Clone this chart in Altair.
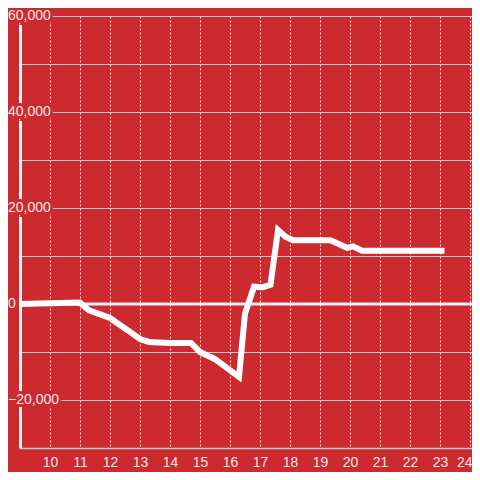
import altair as alt
import pandas as pd

hours = [9.0, 11.0, 11.1, 11.3, 11.7, 12.0, 12.2, 12.6, 13.0, 13.3, 14.0, 14.7,
         15.0, 15.5, 16.3, 16.5, 16.8, 17.1, 17.35, 17.6, 17.85, 18.1, 19.35,
         19.9, 20.1, 20.4, 23.15]
values = [0, 300, -300, -1300, -2200, -2900, -3800, -5500, -7300, -7900, -8100,
          -8100, -10000, -11500, -15200, -2000, 3600, 3500, 4000, 15400, 14000,
          13300, 13300, 11700, 12000, 11100, 11100]
x_ticks = list(range(10, 25))
y_grid = [-30000, -20000, -10000, 0, 10000, 20000, 30000, 40000, 50000, 60000]
y_labels = [60000, 40000, 20000, 0, -20000]

BG = "#cc2a2f"
TXT = "#f0e8e8"
FONT = "Liberation Sans"

df = pd.DataFrame({"t": hours, "v": values})
lab = pd.DataFrame({"v": y_labels})
zero = pd.DataFrame({"v": [0]})

xs = alt.Scale(domain=[9, 24.0667], nice=False, zero=False)
ys = alt.Scale(domain=[-30000, 60000], nice=False, zero=False)

base_line = alt.Chart(df).mark_line(color="white", strokeWidth=6, strokeCap="butt").encode(
    x=alt.X("t:Q", scale=xs, title=None,
            axis=alt.Axis(values=x_ticks, grid=True, gridColor="#e8e8e8",
                          gridDash=[2, 2], gridWidth=1, ticks=False,
                          domainColor="#cccccc", domainWidth=1.5,
                          labelColor=TXT, labelFontSize=14, labelFont=FONT,
                          labelPadding=7, labelOverlap=False,
                          labelAlign={"condition": {"test": "datum.value == 24", "value": "right"},
                                      "value": "center"},
                          labelOffset={"condition": {"test": "datum.value == 24", "value": 2},
                                       "value": 0},
                          zindex=0)),
    y=alt.Y("v:Q", scale=ys, title=None,
            axis=alt.Axis(values=y_grid, grid=True, gridColor="#cccccc",
                          gridWidth=1, ticks=False, labels=False,
                          domainColor="#eeeeee", domainWidth=3, zindex=0)),
)

zero_rule = alt.Chart(zero).mark_rule(color="#f2f2f2", strokeWidth=3).encode(
    y=alt.Y("v:Q", scale=ys)
)

halo = alt.Chart(lab).mark_text(
    align="left", baseline="middle", fontSize=14, font=FONT,
    color=BG, stroke=BG, strokeWidth=6
).encode(
    x=alt.value(-12),
    y=alt.Y("v:Q", scale=ys),
    text=alt.Text("v:Q", format=","),
)

labels = alt.Chart(lab).mark_text(
    align="left", baseline="middle", fontSize=14, font=FONT, color=TXT
).encode(
    x=alt.value(-12),
    y=alt.Y("v:Q", scale=ys),
    text=alt.Text("v:Q", format=","),
)

chart = alt.layer(zero_rule, base_line, halo, labels).properties(
    width=452, height=432,
    background=BG,
    padding={"left": 12, "top": 8, "right": 0, "bottom": 24},
    autosize="none",
).configure_view(stroke=None)

chart.save("out.html", embed_options={"renderer": "svg", "actions": False})
